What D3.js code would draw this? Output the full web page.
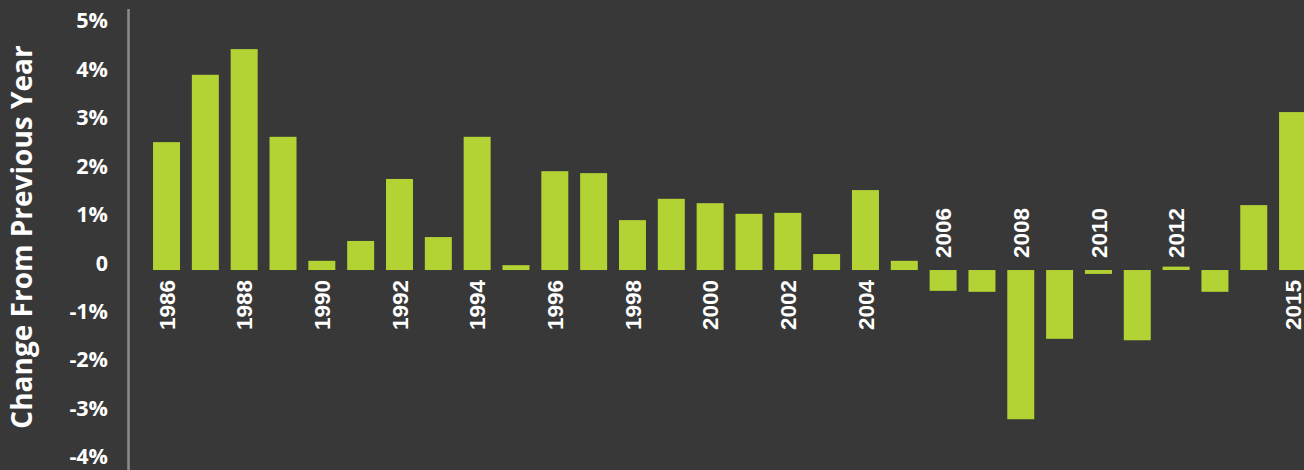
<!DOCTYPE html>
<html>
<head>
<meta charset="utf-8">
<script src="https://cdn.jsdelivr.net/npm/d3@7"></script>
<style>
  html, body { margin: 0; padding: 0; background: #383838; }
  svg { display: block; }
</style>
</head>
<body>
<div id="app"></div>
<script>
const years = d3.range(1986, 2016);
const changes = [
  2.64, 4.03, 4.56, 2.75, 0.19, 0.6, 1.88, 0.68, 2.75, 0.1,
  2.04, 2.0, 1.03, 1.47, 1.38, 1.16, 1.18, 0.33, 1.65, 0.19,
  -0.43, -0.45, -3.08, -1.42, -0.08, -1.45, 0.07, -0.45, 1.34, 3.26
];
const labeledYears = [1986, 1988, 1990, 1992, 1994, 1996, 1998, 2000, 2002, 2004, 2006, 2008, 2010, 2012, 2015];
// years whose label sits above the zero line
const labelsAbove = [2006, 2008, 2010, 2012];
const yTicks = [-4, -3, -2, -1, 0, 1, 2, 3, 4, 5];
const yTitle = 'Change From Previous Year';

const data = years.map((y, i) => ({ year: y, value: changes[i] }));

const width = 1304;
const height = 470;
const barColor = '#b3d335';

const svg = d3.select('#app').append('svg')
  .attr('width', width)
  .attr('height', height);

svg.append('rect')
  .attr('width', width)
  .attr('height', height)
  .attr('fill', '#383838');

const x = d3.scaleBand()
  .domain(years)
  .range([147.1, 1312])
  .paddingInner(0.305)
  .paddingOuter(0.1525);

const y = d3.scaleLinear()
  .domain([-4, 5])
  .range([463.8, 27.8]);

// bars
svg.append('g')
  .selectAll('rect')
  .data(data)
  .join('rect')
  .attr('x', d => x(d.year))
  .attr('width', x.bandwidth())
  .attr('y', d => y(Math.max(0, d.value)))
  .attr('height', d => Math.abs(y(d.value) - y(0)))
  .attr('fill', barColor);

// y axis
const yAxis = d3.axisLeft(y)
  .tickValues(yTicks)
  .tickSize(0)
  .tickPadding(0)
  .tickFormat(d => d === 0 ? '0' : d + '%');

const gy = svg.append('g')
  .attr('transform', 'translate(108, 0)')
  .call(yAxis);
gy.select('.domain').remove();
gy.selectAll('text')
  .attr('dy', '0')
  .attr('fill', '#ffffff')
  .style('font-family', '"Open Sans", sans-serif')
  .style('font-weight', 700)
  .style('font-size', '21.5px');

svg.append('line')
  .attr('x1', 128.5).attr('x2', 128.5)
  .attr('y1', 9).attr('y2', height)
  .attr('stroke', '#8c8c8c')
  .attr('stroke-width', 2.5);

// year labels
svg.append('g')
  .selectAll('text')
  .data(data.filter(d => labeledYears.includes(d.year)))
  .join('text')
  .attr('transform', d => {
    const cx = x(d.year) + x.bandwidth() / 2;
    const ty = labelsAbove.includes(d.year) ? y(0) - 12 : y(0) + 10;
    return `translate(${cx}, ${ty}) rotate(-90)`;
  })
  .attr('text-anchor', d => labelsAbove.includes(d.year) ? 'start' : 'end')
  .attr('dy', '0.36em')
  .attr('fill', '#ffffff')
  .style('font-family', '"Liberation Sans", Arial, sans-serif')
  .style('font-weight', 700)
  .style('font-size', '22.5px')
  .text(d => d.year);

// axis title
svg.append('text')
  .attr('transform', 'translate(22, 237) rotate(-90)')
  .attr('text-anchor', 'middle')
  .attr('dy', '0.35em')
  .attr('fill', '#ffffff')
  .style('font-family', '"Open Sans", sans-serif')
  .style('font-weight', 700)
  .style('font-size', '28px')
  .text(yTitle);
</script>
</body>
</html>
